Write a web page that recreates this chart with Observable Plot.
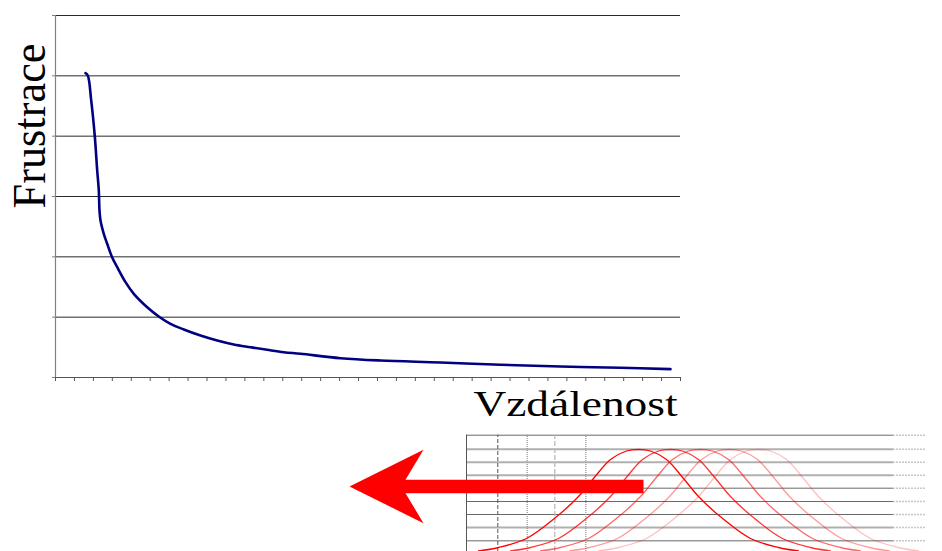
<!DOCTYPE html>
<html>
<head>
<meta charset="utf-8">
<script src="https://cdn.jsdelivr.net/npm/d3@7"></script>
<script src="https://cdn.jsdelivr.net/npm/@observablehq/plot@0.6"></script>
<style>
  html, body { margin: 0; padding: 0; background: #fff; }
  #wrap { position: relative; width: 942px; height: 551px; overflow: hidden; background: #fff; }
  #inset { position: absolute; left: 340px; top: 428px; }
</style>
</head>
<body>
<div id="wrap"><div id="main"></div><div id="inset"></div></div>
<script>
// ---- main chart data (x in category-tick units, y in gridline units) ----
const frustX = [1.584, 1.705, 1.885, 2.075, 2.202, 2.286, 2.323, 2.376, 2.550, 2.730, 2.994, 3.258, 3.696, 4.134, 4.842, 5.507, 6.072, 6.774, 7.656, 8.538, 9.414, 10.296, 11.177, 12.054, 12.936, 15.048, 17.159, 20.327, 23.495, 26.663, 29.831, 32.471];
const frustY = [5.044, 5.006, 4.592, 3.995, 3.431, 3.10, 2.768, 2.602, 2.382, 2.216, 1.989, 1.828, 1.580, 1.387, 1.165, 0.999, 0.890, 0.796, 0.696, 0.613, 0.547, 0.502, 0.459, 0.419, 0.393, 0.320, 0.282, 0.249, 0.211, 0.182, 0.161, 0.138];
const xTicks = d3.range(0, 34);          // 33 category intervals
const yGrid = [1, 2, 3, 4, 5, 6];
const yTitle = "Frustrace";
const xTitle = "Vzdálenost";

// ---- inset picture data (x: page-like units, y: height above inset bottom) ----
const insetHLines = [116.3, 102.3, 89.3, 76.3, 63.3, 50, 37, 24, 10.7];
const insetHLineTone = ["dark", "light", "light", "light", "dark", "dark", "dark", "light", "mid"];
const insetVLines = [466, 497.3, 526.7, 554.3, 585.3];
const insetVLineKind = ["solid", "dash", "dot", "dashlight", "dot"];
const gaussOffsets = [-160, -140, -112, -82, -60, -45, -28, -12, 0, 12, 28, 45, 60, 82, 112, 140, 160];
const gaussHeights = [0.5, 4, 13, 34.7, 55, 73, 92, 100.5, 102, 100.5, 92, 73, 55, 34.7, 13, 4, 0.5];
const gaussPeaks = [638, 670, 700, 729, 758];
const gaussOpacity = [1, 0.8, 0.6, 0.4, 0.25];
const arrowX = [349, 423, 405, 643, 643, 405, 423, 349];
const arrowY = [65, 101.7, 71.7, 71.7, 58.3, 58.3, 28.3, 65];

// ---- main chart ----
const curve = frustX.map((x, i) => ({x, y: frustY[i]}));
const serif = "'Liberation Serif', 'Times New Roman', serif";

const main = Plot.plot({
  width: 942,
  height: 551,
  marginLeft: 55,
  marginRight: 262,
  marginTop: 15,
  marginBottom: 174,
  style: {background: "transparent", overflow: "visible"},
  x: {domain: [0, 33], axis: null},
  y: {domain: [0, 6], axis: null},
  marks: [
    Plot.ruleY(yGrid, {stroke: "#2a2a2a", strokeWidth: 1}),
    Plot.axisY({ticks: [0, ...yGrid], tickSize: 3, tickFormat: () => "", label: null, stroke: "#808080"}),
    Plot.axisX({ticks: xTicks, tickSize: 4, tickFormat: () => "", label: null, stroke: "#555"}),
    Plot.ruleX([0], {stroke: "#808080", strokeWidth: 1.2}),
    Plot.ruleY([0], {stroke: "#555", strokeWidth: 1.2}),
    Plot.line(curve, {x: "x", y: "y", stroke: "#000080", strokeWidth: 2.6, curve: "catmull-rom"}),
    Plot.text([yTitle], {frameAnchor: "top-left", dx: -11, dy: 110.5, rotate: -90, textAnchor: "middle", lineAnchor: "bottom", fontSize: 47, fontFamily: serif, fill: "#000", className: "ytitle"}),
    Plot.text([xTitle], {frameAnchor: "bottom-left", dx: 418, dy: 38, textAnchor: "start", lineAnchor: "bottom", fontSize: 36, fontFamily: serif, fill: "#000", className: "xtitle"})
  ]
});
document.getElementById("main").appendChild(main);
d3.select(main).selectAll(".ytitle text").attr("textLength", 165).attr("lengthAdjust", "spacingAndGlyphs");
d3.select(main).selectAll(".xtitle text").attr("textLength", 204).attr("lengthAdjust", "spacingAndGlyphs");

// ---- inset picture ----
const hl = insetHLines.map((y, i) => ({y, tone: insetHLineTone[i]}));
const toneColor = {dark: "#6a6a6a", light: "#b0b0b0", mid: "#999"};
const toneWidth = {dark: 1, light: 2, mid: 1.5};
const vl = insetVLines.map((x, i) => ({x, kind: insetVLineKind[i]}));
const vStyle = {
  solid: {stroke: "#555", dash: null, w: 1},
  dash: {stroke: "#555", dash: "4,2", w: 1},
  dot: {stroke: "#999", dash: "1,1", w: 1.3},
  dashlight: {stroke: "#bbb", dash: "5,2", w: 1.3}
};
const gaussMarks = gaussPeaks.map((p, i) =>
  Plot.line(gaussOffsets.map((d, j) => ({x: p + d, y: gaussHeights[j]})),
    {x: "x", y: "y", stroke: "#ff0000", strokeWidth: 1.3, strokeOpacity: gaussOpacity[i], curve: "catmull-rom"}));
const arrow = arrowX.map((x, i) => ({x, y: arrowY[i]}));

const inset = Plot.plot({
  width: 602,
  height: 123,
  margin: 0,
  style: {background: "transparent", overflow: "visible"},
  x: {domain: [340, 942], axis: null},
  y: {domain: [0, 123], axis: null},
  marks: [
    ...Object.keys(toneColor).map(t => Plot.ruleY(hl.filter(d => d.tone === t), {y: "y", x1: 466, x2: 893, stroke: toneColor[t], strokeWidth: toneWidth[t]})),
    Plot.ruleY(hl, {y: "y", x1: 893, x2: 925, stroke: "#c8c8c8", strokeWidth: 1.5, strokeDasharray: "2,1"}),
    ...Object.keys(vStyle).map(k => Plot.ruleX(vl.filter(d => d.kind === k), {x: "x", y1: 0, y2: 116.3, stroke: vStyle[k].stroke, strokeWidth: vStyle[k].w, strokeDasharray: vStyle[k].dash})),
    ...gaussMarks,
    Plot.line(arrow, {x: "x", y: "y", fill: "#ff0000", stroke: "none", curve: "linear"})
  ]
});
document.getElementById("inset").appendChild(inset);
</script>
</body>
</html>
